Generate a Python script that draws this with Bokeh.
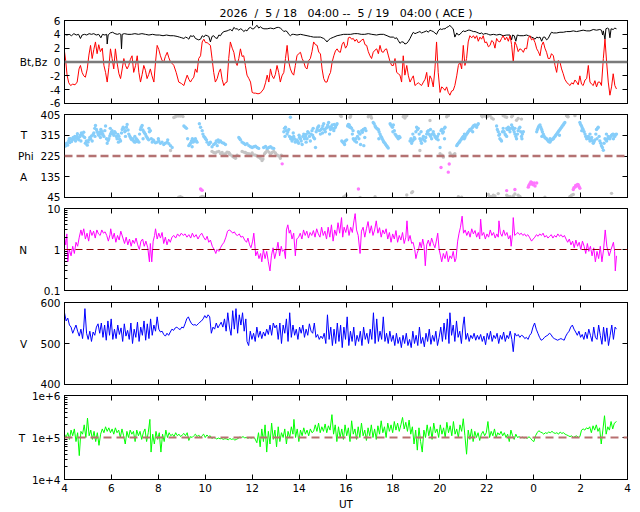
from bokeh.plotting import figure
from bokeh.layouts import column
from bokeh.models import Range1d, FixedTicker, LinearAxis, LogAxis, Span
from bokeh.embed import file_html
from bokeh.resources import INLINE

FONT = "DejaVu Sans"
FSIZE = "10.5px"
NB = "\u00a0"

TITLE = ("2026" + NB + " / " + NB + "5 / 18" + NB * 2 + " 04:00 -- " + NB + "5 / 19"
         + NB * 2 + " 04:00 ( ACE )")

X_TICKS = [4, 6, 8, 10, 12, 14, 16, 18, 20, 22, 24, 26, 28]
X_TICK_LABELS = ["4", "6", "8", "10", "12", "14", "16", "18", "20", "22", "0", "2", "4"]

B_TICKS = [-6, -4, -2, 0, 2, 4, 6]
B_TICK_LABELS = ["-6", "-4", "-2", "Bt,Bz" + NB * 2 + "0", "2", "4", "6"]
PHI_TICKS = [45, 135, 225, 315, 405]
PHI_TICK_LABELS = ["45", "A" + NB * 4 + "135", "Phi" + NB * 2 + "225", "T" + NB * 4 + "315", "405"]
N_TICKS = [0.1, 1.0, 10.0]
N_TICK_LABELS = ["0.1", "N" + NB * 8 + "1", "10"]
N_MINOR = [0.2, 0.3, 0.4, 0.5, 0.6, 0.7, 0.8, 0.9, 2.0, 3.0, 4.0, 5.0, 6.0, 7.0, 8.0, 9.0]
V_TICKS = [400, 500, 600]
V_TICK_LABELS = ["400", "V" + NB * 4 + "500", "600"]
T_TICKS = [1e4, 1e5, 1e6]
T_TICK_LABELS = ["1e+4", "T" + NB * 2 + "1e+5", "1e+6"]
T_MINOR = [2e4, 3e4, 4e4, 5e4, 6e4, 7e4, 8e4, 9e4, 2e5, 3e5, 4e5, 5e5, 6e5, 7e5, 8e5, 9e5]

# ---------------- data (hour, value) ----------------
bt_points = [
(4.00,4.0),(4.10,3.9),(4.20,4.0),(4.30,3.8),(4.40,4.1),(4.50,3.9),(4.60,4.0),(4.68,3.4),(4.75,3.9),(4.85,4.0),
(4.95,3.9),(5.05,4.1),(5.15,4.0),(5.25,4.1),(5.35,3.9),(5.46,4.0),(5.55,3.5),(5.62,4.0),(5.72,3.9),(5.80,4.0),
(5.82,2.6),(5.86,3.9),(5.95,4.2),(6.05,4.3),(6.15,4.1),(6.25,4.0),(6.35,4.1),(6.40,4.0),(6.43,1.9),(6.46,4.0),
(6.55,4.1),(6.70,4.0),(6.85,4.0),(7.00,4.1),(7.15,4.0),(7.30,4.1),(7.45,4.0),(7.60,3.9),(7.75,4.0),(7.90,3.9),
(8.05,3.9),(8.20,3.8),(8.35,3.9),(8.50,3.8),(8.65,3.8),(8.80,3.7),(8.90,3.6),(9.00,3.5),(9.09,3.4),(9.16,3.6),
(9.23,3.5),(9.30,3.3),(9.37,3.8),(9.44,3.7),(9.51,3.8),(9.58,3.4),(9.65,3.3),(9.72,3.2),(9.80,3.3),(9.87,3.8),
(9.94,3.6),(10.01,3.9),(10.08,3.8),(10.15,3.7),(10.22,2.9),(10.29,3.7),(10.36,3.8),(10.43,3.5),(10.51,3.4),(10.58,3.9),
(10.65,3.8),(10.72,4.2),(10.80,4.4),(10.93,4.5),(11.00,4.6),(11.07,4.7),(11.15,4.5),(11.22,5.0),(11.29,4.8),(11.36,4.8),
(11.43,4.6),(11.50,4.8),(11.57,4.7),(11.64,4.4),(11.71,4.6),(11.78,4.5),(11.86,4.9),(11.93,5.0),(12.00,4.8),(12.07,4.8),
(12.14,5.1),(12.21,5.3),(12.28,4.9),(12.35,5.1),(12.42,4.9),(12.50,4.8),(12.64,4.8),(12.78,4.9),(12.92,4.8),(13.06,5.0),
(13.13,5.0),(13.20,4.9),(13.27,4.7),(13.35,4.4),(13.42,4.5),(13.49,4.4),(13.56,4.0),(13.63,3.8),(13.70,4.0),(13.77,4.0),
(13.91,3.9),(14.06,4.0),(14.20,3.9),(14.34,3.8),(14.48,3.7),(14.62,3.6),(14.77,3.6),(14.91,3.6),(15.05,3.4),(15.12,3.2),
(15.19,2.9),(15.26,3.2),(15.34,3.4),(15.48,3.6),(15.62,3.8),(15.76,3.9),(15.90,4.0),(16.05,4.0),(16.20,4.0),(16.35,4.1),
(16.50,4.1),(16.65,4.0),(16.80,4.0),(16.95,4.1),(17.10,4.0),(17.30,3.9),(17.45,4.0),(17.60,4.0),(17.75,3.8),(17.88,3.6),
(18.02,3.6),(18.09,3.4),(18.16,3.5),(18.23,3.1),(18.30,2.7),(18.37,2.9),(18.44,2.9),(18.51,2.6),(18.59,2.7),(18.66,3.0),
(18.73,3.4),(18.80,3.9),(18.87,4.3),(18.94,4.1),(19.01,4.2),(19.08,4.3),(19.15,4.4),(19.22,4.2),(19.30,4.3),(19.37,4.4),
(19.44,4.5),(19.51,4.3),(19.58,4.6),(19.65,4.5),(19.72,4.4),(19.79,4.2),(19.86,4.0),(19.93,4.5),(20.01,4.8),(20.08,4.7),
(20.15,4.8),(20.22,4.8),(20.29,5.0),(20.36,5.1),(20.43,5.3),(20.50,5.0),(20.57,4.8),(20.64,3.6),(20.72,4.2),(20.79,3.9),
(20.86,4.0),(20.93,4.3),(21.00,4.5),(21.07,4.4),(21.14,4.5),(21.21,4.6),(21.28,4.6),(21.36,4.5),(21.43,4.4),(21.50,4.4),
(21.57,4.3),(21.64,4.2),(21.71,4.1),(21.78,4.2),(21.85,4.0),(21.92,4.1),(21.99,4.1),(22.07,4.0),(22.14,3.9),(22.28,4.0),
(22.42,3.9),(22.56,4.0),(22.70,3.8),(22.85,3.9),(22.99,3.9),(23.06,3.2),(23.10,3.9),(23.17,3.8),(23.24,3.0),(23.30,3.9),
(23.41,3.8),(23.56,3.8),(23.70,3.9),(23.77,3.8),(23.84,3.7),(23.91,3.6),(23.98,3.5),(24.06,3.3),(24.13,3.6),(24.20,3.5),
(24.27,3.6),(24.34,3.0),(24.41,3.6),(24.48,3.6),(24.55,3.2),(24.62,3.4),(24.69,3.9),(24.76,4.3),(24.84,4.2),(24.98,4.2),
(25.12,4.3),(25.26,4.3),(25.40,4.4),(25.55,4.4),(25.69,4.5),(25.83,4.4),(25.97,4.5),(26.11,4.6),(26.26,4.5),(26.40,4.5),
(26.54,4.7),(26.68,4.6),(26.82,4.7),(26.89,4.6),(26.94,3.9),(26.97,4.5),(27.04,3.3),(27.08,4.8),(27.15,4.9),(27.20,4.8),
(27.25,3.5),(27.30,4.8),(27.39,4.7),(27.46,4.9),(27.53,4.8)]

bz_points = [
(4.00,1.5),(4.05,0.2),(4.11,-1.9),(4.18,-3.0),(4.26,-3.4),(4.35,-3.2),(4.45,-3.3),(4.54,-2.9),(4.62,-1.0),(4.68,-0.5),
(4.75,-1.5),(4.82,-2.0),(4.89,-2.2),(4.97,-1.0),(5.04,1.0),(5.11,2.4),(5.18,0.5),(5.25,1.8),(5.32,2.9),(5.39,1.2),
(5.46,2.5),(5.53,1.5),(5.61,2.0),(5.68,-0.5),(5.75,-1.5),(5.82,-2.9),(5.89,-0.8),(5.96,1.9),(6.03,0.5),(6.10,-1.0),
(6.17,1.9),(6.25,-0.3),(6.32,-1.7),(6.39,-2.4),(6.46,-1.0),(6.53,0.5),(6.60,-0.5),(6.67,-1.0),(6.74,-0.5),(6.81,0.4),
(6.88,0.9),(6.95,-1.5),(7.03,-0.5),(7.10,0.9),(7.17,-1.5),(7.24,-2.9),(7.31,-1.8),(7.38,-0.5),(7.45,-1.2),(7.52,-2.4),
(7.59,-1.8),(7.66,-1.0),(7.73,-2.0),(7.81,-2.9),(7.88,0.0),(7.95,2.4),(8.02,1.8),(8.09,0.9),(8.16,0.2),(8.23,0.0),
(8.30,0.8),(8.38,1.4),(8.45,0.6),(8.52,0.0),(8.59,-0.2),(8.66,-0.5),(8.76,-1.5),(8.87,-2.9),(8.98,-3.1),(9.09,-3.4),
(9.16,-2.6),(9.23,-1.9),(9.30,-2.5),(9.37,-2.9),(9.44,-2.5),(9.51,-2.2),(9.58,-1.0),(9.65,-1.5),(9.72,0.5),(9.80,0.9),
(9.87,2.9),(9.94,3.3),(10.01,2.8),(10.08,2.8),(10.15,2.6),(10.22,2.4),(10.29,0.5),(10.36,-1.5),(10.43,-2.9),(10.51,-2.4),
(10.58,-1.5),(10.65,-1.0),(10.72,-2.5),(10.79,-3.4),(10.86,-3.0),(10.93,-2.9),(11.00,0.5),(11.07,2.9),(11.15,2.0),(11.22,1.4),
(11.29,0.0),(11.36,-0.5),(11.43,0.5),(11.50,1.9),(11.57,0.8),(11.64,0.9),(11.71,-0.5),(11.78,-1.9),(11.86,-2.4),(11.93,-2.9),
(12.00,-4.4),(12.07,-4.5),(12.14,-4.5),(12.25,-4.6),(12.35,-4.5),(12.42,-4.2),(12.49,-3.9),(12.57,-3.0),(12.64,-1.9),(12.71,-2.9),
(12.78,-1.0),(12.85,-2.0),(12.92,-2.4),(12.99,-1.8),(13.06,-0.5),(13.13,-1.5),(13.20,-2.9),(13.27,-2.0),(13.35,-1.5),(13.42,0.5),
(13.49,2.4),(13.56,0.0),(13.63,-1.0),(13.70,-1.6),(13.77,-1.9),(13.84,-0.5),(13.91,0.9),(13.98,1.2),(14.06,1.4),(14.13,0.5),
(14.20,0.0),(14.27,-0.8),(14.34,-1.0),(14.41,0.2),(14.48,0.5),(14.55,1.5),(14.62,2.9),(14.70,2.5),(14.77,2.4),(14.84,1.4),
(14.91,1.2),(14.98,-1.0),(15.05,-2.4),(15.12,-2.9),(15.19,-2.9),(15.27,-2.0),(15.34,-1.5),(15.41,0.0),(15.48,0.9),(15.55,1.6),
(15.62,1.9),(15.69,1.5),(15.76,1.4),(15.83,2.5),(15.90,2.9),(15.98,2.0),(16.05,2.4),(16.10,3.5),(16.17,3.6),(16.24,3.3),
(16.31,3.4),(16.38,3.0),(16.45,3.3),(16.52,2.8),(16.60,2.9),(16.67,3.2),(16.74,3.3),(16.81,2.5),(16.88,2.4),(16.95,1.5),
(17.02,0.9),(17.09,0.5),(17.16,1.4),(17.23,1.7),(17.31,1.9),(17.38,1.2),(17.45,2.4),(17.52,1.5),(17.59,1.4),(17.66,1.8),
(17.73,1.9),(17.80,1.0),(17.88,0.0),(17.95,-0.5),(18.02,-0.5),(18.09,0.5),(18.16,-1.5),(18.23,-1.7),(18.30,-1.9),(18.37,-2.9),
(18.44,0.9),(18.51,-1.9),(18.59,-0.5),(18.66,-2.0),(18.73,-2.9),(18.80,-2.4),(18.87,-2.0),(18.94,-3.4),(19.01,-3.2),(19.08,-3.0),
(19.15,-3.2),(19.22,-3.4),(19.30,-2.9),(19.37,-2.5),(19.44,-1.5),(19.51,-3.6),(19.58,-2.0),(19.65,-2.5),(19.72,-3.6),(19.79,-1.0),
(19.86,2.9),(19.93,-1.5),(20.01,-4.4),(20.08,-3.6),(20.15,-3.8),(20.22,-4.1),(20.29,-3.6),(20.36,-4.4),(20.43,-4.8),(20.50,-4.2),
(20.57,-4.1),(20.64,-3.4),(20.72,-2.0),(20.79,-0.5),(20.86,0.0),(20.93,-1.0),(21.00,2.4),(21.07,-0.5),(21.14,0.5),(21.21,2.9),
(21.28,3.8),(21.36,3.5),(21.43,3.8),(21.50,3.4),(21.57,3.8),(21.64,3.0),(21.71,3.6),(21.78,3.3),(21.85,3.8),(21.92,2.8),
(21.99,2.9),(22.07,2.2),(22.14,2.4),(22.21,3.1),(22.28,2.9),(22.35,2.0),(22.42,3.4),(22.49,3.0),(22.56,2.9),(22.63,3.4),
(22.70,3.8),(22.78,3.2),(22.85,3.6),(22.92,3.0),(22.99,3.8),(23.06,2.5),(23.13,0.0),(23.20,2.9),(23.27,2.4),(23.34,1.5),
(23.41,1.9),(23.48,1.8),(23.56,1.4),(23.63,2.0),(23.70,1.9),(23.77,3.4),(23.84,3.8),(23.91,3.2),(23.98,3.4),(24.06,2.8),
(24.13,1.9),(24.20,1.5),(24.27,0.9),(24.34,2.4),(24.41,2.9),(24.48,2.0),(24.55,1.4),(24.62,0.5),(24.69,0.5),(24.76,1.2),
(24.84,0.9),(24.91,-0.5),(24.98,-1.5),(25.05,0.2),(25.12,0.0),(25.19,-1.0),(25.26,-1.7),(25.33,-2.5),(25.40,-2.9),(25.48,-3.2),
(25.55,-3.4),(25.62,-3.0),(25.69,-3.2),(25.76,-2.6),(25.83,-2.9),(25.90,-3.3),(25.97,-2.0),(26.04,-3.2),(26.11,-3.4),(26.19,-2.6),
(26.26,-2.4),(26.33,-0.5),(26.40,-2.9),(26.47,-3.2),(26.54,-3.4),(26.61,-2.7),(26.68,-3.6),(26.75,-2.9),(26.82,-2.9),(26.89,-3.4),
(26.97,0.5),(27.04,3.3),(27.11,0.0),(27.18,-2.9),(27.25,-4.8),(27.32,-3.6),(27.39,-1.7),(27.46,-3.4),(27.53,-3.9)]

phi_blue_points = [
(4.00,275),(4.04,268),(4.09,280),(4.13,272),(4.18,290),(4.22,283),(4.26,300),(4.30,288),(4.33,295),(4.37,305),
(4.40,298),(4.44,310),(4.47,290),(4.51,302),(4.54,310),(4.58,300),(4.61,295),(4.65,308),(4.68,315),(4.72,325),
(4.75,320),(4.79,312),(4.82,328),(4.86,305),(4.89,280),(4.93,290),(4.97,272),(5.00,285),(5.04,295),(5.08,305),
(5.11,300),(5.15,312),(5.18,290),(5.22,318),(5.25,325),(5.29,345),(5.32,357),(5.36,340),(5.39,330),(5.43,322),
(5.46,315),(5.50,328),(5.53,305),(5.57,320),(5.61,330),(5.64,318),(5.68,310),(5.72,335),(5.75,355),(5.79,300),
(5.82,280),(5.86,292),(5.89,300),(5.93,312),(5.96,320),(6.00,328),(6.03,335),(6.07,322),(6.10,315),(6.14,330),
(6.17,325),(6.21,310),(6.24,300),(6.28,318),(6.32,310),(6.35,298),(6.39,290),(6.43,325),(6.46,340),(6.50,350),
(6.53,345),(6.57,330),(6.60,335),(6.64,350),(6.67,362),(6.71,338),(6.74,320),(6.78,312),(6.81,305),(6.85,298),
(6.88,295),(6.92,300),(6.95,290),(6.99,285),(7.03,287),(7.06,300),(7.10,295),(7.13,290),(7.17,285),(7.20,320),
(7.24,340),(7.27,350),(7.31,357),(7.34,338),(7.38,330),(7.41,325),(7.45,320),(7.48,312),(7.52,305),(7.55,300),
(7.59,295),(7.62,330),(7.66,335),(7.70,300),(7.74,285),(7.78,295),(7.81,290),(7.88,282),(7.95,285),(8.02,290),
(8.09,280),(8.16,285),(8.23,275),(8.30,280),(8.38,285),(8.45,278),(8.52,270),(8.59,262),
(9.09,355),(9.15,350),(9.20,345),(9.25,300),(9.30,270),(9.34,275),(9.37,280),(9.41,290),(9.44,265),(9.48,285),
(9.51,290),(9.55,295),(9.58,300),(9.62,290),(9.65,285),(9.75,365),(9.80,350),(9.87,335),(9.90,320),(9.94,310),
(9.98,305),(10.01,300),(10.08,285),(10.15,275),(10.19,280),(10.22,285),(10.29,265),(10.36,275),(10.43,280),(10.47,290),
(10.51,270),(10.58,285),(10.62,288),(10.65,290),(10.72,283),(10.79,280),(10.86,275),(11.43,305),(11.47,300),(11.50,295),
(11.57,285),(11.64,280),(11.71,275),(11.78,278),(11.86,270),(11.93,265),(12.00,262),(12.07,265),(12.14,268),(12.21,262),
(12.28,258),(12.49,262),(12.57,266),(12.64,258),(12.71,262),(12.78,265),(12.85,260),(12.92,258),
(13.35,330),(13.38,345),(13.42,350),(13.45,335),(13.49,320),(13.52,330),(13.56,340),(13.59,310),(13.63,393),(13.64,300),
(13.67,305),(13.70,290),(13.73,298),(13.77,310),(13.80,300),(13.84,285),(13.87,292),(13.91,295),(13.94,288),(13.98,280),
(14.02,305),(14.06,300),(14.09,290),(14.13,275),(14.16,310),(14.20,320),(14.23,300),(14.27,310),(14.30,318),(14.34,300),
(14.37,330),(14.41,325),(14.44,310),(14.48,290),(14.51,320),(14.55,335),(14.58,315),(14.62,305),(14.66,300),(14.70,262),
(14.73,330),(14.77,340),(14.80,350),(14.84,355),(14.87,335),(14.91,320),(14.94,340),(14.98,345),(15.01,355),(15.05,365),
(15.08,340),(15.12,330),(15.15,345),(15.19,350),(15.22,360),(15.26,370),(15.30,350),(15.34,340),(15.37,352),(15.41,360),
(15.44,345),(15.48,335),(15.51,345),(15.55,350),(15.58,358),(15.62,365),
(15.82,290),(15.87,285),(15.91,280),(15.94,275),(15.97,290),(16.03,295),(16.07,355),(16.10,362),(16.14,360),(16.16,350),
(16.20,350),(16.24,345),(16.27,320),(16.31,300),(16.34,295),(16.38,290),(16.41,300),(16.45,285),(16.49,310),(16.53,330),
(16.56,325),(16.60,320),(16.62,275),(16.67,335),(16.70,328),(16.74,340),(16.76,270),(16.81,345),(16.85,335),
(17.16,370),(17.20,365),(17.24,355),(17.27,350),(17.31,345),(17.34,342),(17.38,340),(17.41,330),(17.45,320),(17.48,312),
(17.52,305),(17.55,298),(17.59,290),(17.62,285),(17.66,280),(17.69,275),(17.73,270),(17.76,265),(17.80,260),(17.88,365),
(17.91,360),(17.95,355),(17.98,350),(18.02,360),(18.06,335),(18.09,320),(18.13,315),(18.16,310),(18.20,305),(18.23,300),
(18.27,310),(18.30,305),
(18.73,290),(18.77,300),(18.80,280),(18.84,290),(18.87,295),(18.91,305),(18.94,300),(18.98,330),(19.01,350),(19.05,340),
(19.08,345),(19.12,320),(19.15,300),(19.19,290),(19.22,280),(19.26,300),(19.30,310),(19.33,295),(19.37,290),(19.40,305),
(19.44,320),(19.47,330),(19.51,335),(19.54,320),(19.58,315),(19.61,310),(19.65,300),(19.68,320),(19.72,330),(19.75,318),
(19.79,310),(19.82,305),(19.86,300),(19.90,310),(19.93,295),(20.01,262),(20.05,335),(20.08,340),(20.12,325),(20.15,330),
(20.19,345),(20.22,350),
(20.72,270),(20.75,275),(20.79,280),(20.83,285),(20.86,290),(20.90,295),(20.93,300),(20.97,305),(21.00,310),(21.04,300),
(21.07,305),(21.11,315),(21.14,320),(21.18,325),(21.21,330),(21.25,335),(21.28,340),(21.32,338),(21.36,345),(21.40,350),
(21.43,355),(21.47,358),(21.50,360),(21.54,355),(21.57,350),(21.61,360),(21.64,365),
(22.42,355),(22.45,340),(22.49,330),(22.52,315),(22.56,300),(22.60,295),(22.63,290),(22.67,330),(22.70,345),(22.74,330),
(22.78,320),(22.81,315),(22.85,310),(22.88,340),(22.92,350),(22.95,340),(22.99,330),(23.03,345),(23.06,360),(23.10,350),
(23.13,340),(23.17,330),(23.20,320),(23.24,310),(23.27,300),(23.31,320),(23.34,335),(23.38,345),(23.41,350),(23.45,330),
(23.48,310),(23.52,320),(23.56,330),
(24.13,330),(24.16,340),(24.20,350),(24.23,355),(24.27,360),(24.30,350),(24.34,340),(24.37,330),(24.41,320),(24.44,312),
(24.48,305),(24.51,302),(24.55,300),(24.58,295),(24.62,290),(24.65,288),(24.69,285),(24.72,290),(24.76,295),(24.80,298),
(24.84,300),(24.87,305),(24.91,310),(24.94,315),(24.98,320),(25.01,325),(25.05,330),(25.08,335),(25.12,340),(25.15,345),
(25.19,350),(25.22,355),(25.26,360),(25.29,365),(25.33,370),
(25.97,370),(26.00,362),(26.04,355),(26.07,348),(26.11,340),(26.15,330),(26.19,320),(26.22,310),(26.26,300),(26.30,305),
(26.33,310),(26.37,300),(26.40,290),(26.44,298),(26.47,305),(26.51,290),(26.54,280),(26.58,288),(26.61,295),(26.65,320),
(26.68,340),(26.72,345),(26.75,350),(26.79,310),(26.82,290),(26.86,280),(26.89,270),(26.93,262),(26.97,250),(27.00,280),
(27.04,300),(27.08,295),(27.11,290),(27.15,300),(27.18,310),(27.22,305),(27.25,300),(27.29,310),(27.32,315),(27.36,318),
(27.39,320),(27.43,315),(27.46,310),(27.50,318),(27.53,320),
(4.20,300),(4.55,322),(4.70,290),(5.30,310),(5.55,340),(5.95,345),(6.30,285),(6.60,310),(7.00,310),(7.35,300),
(7.60,345),(8.00,300),(8.40,295),(9.45,300),(10.05,295),(10.55,295),(13.40,310),(13.75,325),(14.00,315),(14.30,285),
(14.60,345),(15.00,325),(15.30,320),(15.50,362),(16.30,335),(16.55,300),(16.80,305),(17.40,300),(18.00,330),(18.85,320),
(19.20,330),(19.60,340),(19.95,320),(20.20,300),(21.05,320),(21.40,330),(22.55,320),(22.85,345),(23.20,345),(23.50,300),
(24.35,310),(24.70,300),(25.10,315),(26.05,335),(26.40,320),(26.70,300),(27.10,320),(27.40,300)]

phi_gray_points = [
(8.52,249),(8.66,392),(8.73,395),(8.77,400),(8.80,403),(8.84,398),(8.87,405),(8.91,400),(8.94,398),(8.98,402),
(9.01,400),(9.05,396),(10.29,245),(10.36,240),(10.43,238),(10.50,243),(10.58,245),(10.65,236),(10.72,240),(10.79,232),
(10.86,235),(10.93,242),(11.00,240),(11.04,235),(11.07,230),(11.15,225),(11.22,220),(11.26,218),(11.29,215),(11.36,228),
(11.57,245),(11.64,242),(11.71,240),(11.78,236),(11.86,235),(11.93,232),(12.00,238),(12.07,230),(12.14,228),(12.21,225),
(12.28,220),(12.35,215),(12.42,205),(12.46,212),(12.53,235),(12.57,240),(12.64,250),(12.71,242),(12.78,235),(12.85,240),
(12.92,245),(12.99,238),(13.06,230),(13.13,225),(13.20,215),(13.24,228),
(15.76,400),(15.80,396),(16.17,393),(16.20,398),(16.95,395),(16.99,400),(17.02,403),(17.06,398),(17.09,390),(18.44,395),
(18.47,400),(18.51,390),(18.55,397),(18.59,400),(19.15,249),(19.58,379),(20.01,235),(20.10,228),(20.15,220),(20.29,395),
(20.33,402),(20.36,400),(20.43,238),(20.50,230),(20.54,226),(20.57,225),(20.61,232),(20.64,235),
(21.78,400),(21.81,395),(21.85,405),(21.92,398),(21.99,395),(22.03,402),(22.07,398),(22.14,400),(22.21,390),(22.28,385),
(22.70,400),(22.78,395),(22.85,393),(23.06,395),(23.10,400),(23.27,380),(23.34,388),(23.48,385),(25.40,400),(25.44,396),
(25.47,395),(25.76,400),
(8.87,46),(8.94,48),(9.01,45),(9.80,46),(9.87,50),(9.94,47),(15.90,47),(16.00,55),(16.60,45),(17.24,48),
(18.59,56),(18.80,66),(18.84,70),(20.79,48),(20.93,46),(22.07,58),(22.14,50),(22.20,48),(22.28,55),(22.35,52),
(22.49,62),(22.85,55),(22.92,50),(23.00,48),(23.13,52),(23.20,60),(23.34,55),(23.41,50),(24.48,46),(25.55,50),
(25.62,55),(25.69,58),(27.32,63)]

phi_pink_points = [
(9.80,82),(9.84,78),(9.87,76),(13.28,191),(16.53,82),(20.05,175),(20.36,155),(20.40,190),(22.85,75),(23.20,80),
(23.77,90),(23.80,98),(23.84,105),(23.88,112),(23.91,110),(23.95,102),(23.98,100),(24.02,108),(24.06,95),(24.13,108),
(25.69,80),(25.72,88),(25.76,90),(25.79,97),(25.83,95),(25.87,102),(25.90,100),(25.94,92),(25.97,85)]

n_points = [
(4.00,2.0),(4.05,1.3),(4.10,2.4),(4.14,0.5),(4.20,1.0),(4.28,0.7),(4.35,1.2),(4.42,0.8),(4.49,1.5),(4.56,1.2),
(4.63,2.0),(4.70,3.0),(4.75,2.2),(4.82,3.2),(4.89,1.8),(4.96,2.5),(5.03,1.6),(5.10,3.0),(5.17,2.2),(5.24,2.8),
(5.31,1.9),(5.38,3.0),(5.45,2.4),(5.52,2.2),(5.59,3.0),(5.66,2.5),(5.73,2.7),(5.80,2.2),(5.87,1.6),(5.94,2.3),
(5.97,3.2),(6.05,1.8),(6.12,2.5),(6.19,1.5),(6.26,2.2),(6.33,1.7),(6.40,2.8),(6.49,1.9),(6.56,1.4),(6.63,2.0),
(6.70,1.3),(6.77,1.8),(6.84,1.2),(6.91,1.7),(6.98,1.4),(7.05,1.9),(7.12,1.3),(7.19,1.0),(7.26,1.6),(7.33,1.8),
(7.40,1.2),(7.47,1.6),(7.55,1.1),(7.62,0.5),(7.66,1.4),(7.72,0.5),(7.78,1.6),(7.84,2.2),(7.88,3.2),(7.95,1.8),
(8.02,2.5),(8.09,1.9),(8.16,2.6),(8.23,1.4),(8.30,2.0),(8.37,1.3),(8.44,1.8),(8.51,1.5),(8.58,2.0),(8.66,2.2),
(8.74,1.9),(8.82,2.4),(8.90,2.1),(8.98,2.5),(9.06,2.2),(9.14,2.4),(9.22,2.0),(9.30,2.3),(9.38,1.9),(9.45,2.5),
(9.53,2.0),(9.61,2.3),(9.69,1.8),(9.77,2.2),(9.85,2.5),(9.93,2.0),(10.01,1.7),(10.08,2.1),(10.15,1.5),(10.22,1.7),
(10.30,1.2),(10.38,1.0),(10.45,0.8),(10.50,1.0),(10.58,0.9),(10.65,1.1),(10.72,1.3),(10.80,1.5),(10.88,2.0),(10.95,2.8),
(11.02,3.0),(11.10,2.8),(11.17,2.5),(11.24,2.7),(11.31,2.3),(11.38,2.2),(11.45,2.4),(11.52,2.0),(11.60,2.1),(11.68,1.7),
(11.76,1.5),(11.82,1.9),(11.89,1.3),(11.95,1.1),(12.02,1.6),(12.07,2.5),(12.12,1.2),(12.15,0.7),(12.22,0.9),(12.29,0.6),
(12.36,0.8),(12.41,0.5),(12.48,1.0),(12.55,0.6),(12.62,0.9),(12.69,0.5),(12.76,0.3),(12.82,0.7),(12.89,1.1),(12.96,0.6),
(13.03,0.9),(13.10,1.5),(13.17,0.7),(13.24,1.2),(13.29,0.9),(13.36,1.0),(13.42,0.6),(13.46,3.0),(13.52,4.0),(13.58,2.5),
(13.63,3.0),(13.70,1.8),(13.77,2.5),(13.84,0.7),(13.90,1.8),(13.98,2.0),(14.05,2.5),(14.12,1.8),(14.19,3.0),(14.26,2.2),
(14.33,2.8),(14.40,1.9),(14.47,2.6),(14.54,2.2),(14.61,2.9),(14.68,2.0),(14.75,3.2),(14.82,2.4),(14.89,2.0),(14.96,3.5),
(15.03,2.2),(15.10,2.8),(15.17,1.8),(15.24,3.5),(15.31,2.0),(15.38,4.0),(15.45,1.6),(15.52,3.0),(15.59,2.2),(15.66,4.5),
(15.73,2.5),(15.81,6.0),(15.86,2.0),(15.92,3.5),(15.99,2.6),(16.06,4.0),(16.13,2.2),(16.20,3.5),(16.27,2.6),(16.34,5.0),
(16.39,7.5),(16.45,3.0),(16.52,2.2),(16.60,0.8),(16.66,2.8),(16.73,3.5),(16.80,2.0),(16.87,3.2),(16.94,4.8),(17.01,2.5),
(17.08,3.8),(17.15,2.2),(17.22,3.0),(17.29,5.0),(17.36,2.5),(17.43,3.4),(17.50,2.0),(17.57,3.0),(17.64,2.4),(17.71,3.2),
(17.78,1.8),(17.85,2.6),(17.92,1.5),(17.99,2.4),(18.06,1.8),(18.13,2.9),(18.20,1.5),(18.27,2.2),(18.34,1.7),(18.41,2.6),
(18.48,1.4),(18.55,2.0),(18.60,5.0),(18.66,1.6),(18.73,2.2),(18.80,1.4),(18.86,1.5),(18.93,1.0),(18.98,0.6),(19.03,0.8),
(19.09,1.0),(19.15,1.5),(19.21,1.1),(19.27,1.8),(19.33,1.2),(19.38,0.4),(19.44,1.3),(19.51,1.7),(19.58,1.2),(19.65,1.9),
(19.72,1.4),(19.79,1.1),(19.85,1.6),(19.91,2.5),(19.97,1.0),(20.03,0.7),(20.08,0.5),(20.15,0.8),(20.22,0.6),(20.29,0.9),
(20.36,0.5),(20.43,0.7),(20.50,0.6),(20.57,0.9),(20.64,0.5),(20.69,0.6),(20.76,1.6),(20.82,2.5),(20.88,3.5),(20.95,6.5),
(21.01,2.5),(21.08,3.0),(21.15,2.2),(21.22,2.8),(21.29,2.0),(21.36,3.2),(21.43,2.4),(21.50,2.9),(21.57,2.0),(21.64,2.6),
(21.70,1.8),(21.74,5.5),(21.80,2.2),(21.87,2.6),(21.94,1.8),(22.01,2.4),(22.08,2.0),(22.15,3.0),(22.22,2.2),(22.29,2.6),
(22.36,1.9),(22.43,2.4),(22.49,2.0),(22.52,5.0),(22.58,2.5),(22.65,2.1),(22.72,3.0),(22.79,2.2),(22.86,2.6),(22.93,1.8),
(23.00,2.2),(23.04,1.2),(23.10,2.4),(23.13,6.0),(23.19,2.2),(23.26,2.4),(23.33,2.6),(23.40,2.3),(23.47,2.5),(23.54,2.2),
(23.61,2.4),(23.68,2.1),(23.75,2.3),(23.82,2.0),(23.91,1.6),(23.98,1.8),(24.05,2.0),(24.12,2.3),(24.19,2.1),(24.26,2.4),
(24.33,2.2),(24.40,2.5),(24.47,2.0),(24.54,2.2),(24.61,1.9),(24.68,2.1),(24.75,2.3),(24.82,1.9),(24.89,2.2),(24.96,2.0),
(25.03,2.4),(25.10,2.1),(25.17,2.3),(25.24,2.0),(25.31,2.2),(25.38,1.8),(25.45,1.5),(25.52,1.8),(25.59,1.3),(25.66,1.6),
(25.73,1.1),(25.80,1.7),(25.87,1.2),(25.94,1.5),(26.01,1.0),(26.08,1.6),(26.15,1.2),(26.22,0.8),(26.29,1.4),(26.35,0.9),
(26.42,1.2),(26.49,0.7),(26.56,1.1),(26.63,0.5),(26.70,0.9),(26.77,0.6),(26.84,1.2),(26.91,0.5),(26.98,1.0),(27.05,3.0),
(27.12,1.2),(27.22,0.7),(27.30,1.0),(27.40,1.5),(27.45,0.9),(27.48,0.3),(27.53,0.7)]

v_points = [
(4.00,575),(4.07,555),(4.14,562),(4.21,545),(4.28,540),(4.35,525),(4.42,535),(4.49,545),(4.56,530),(4.63,518),
(4.70,535),(4.77,512),(4.82,540),(4.87,585),(4.94,525),(5.01,510),(5.08,530),(5.15,505),(5.22,528),(5.29,520),
(5.36,540),(5.43,548),(5.50,525),(5.57,550),(5.64,515),(5.71,545),(5.78,508),(5.85,555),(5.92,520),(5.99,560),
(6.06,510),(6.13,535),(6.20,512),(6.27,545),(6.34,522),(6.41,538),(6.48,505),(6.55,548),(6.62,518),(6.69,532),
(6.76,510),(6.83,550),(6.90,500),(6.97,535),(7.04,515),(7.11,552),(7.18,505),(7.25,540),(7.32,520),(7.39,555),
(7.46,508),(7.53,548),(7.60,512),(7.67,560),(7.74,520),(7.81,545),(7.88,530),(7.95,565),(8.02,535),(8.09,528),
(8.16,530),(8.23,522),(8.30,518),(8.37,525),(8.44,520),(8.51,528),(8.58,535),(8.65,532),(8.72,538),(8.79,540),
(8.86,536),(8.93,534),(9.00,540),(9.07,538),(9.14,548),(9.21,560),(9.28,565),(9.35,555),(9.42,548),(9.49,545),
(9.56,546),(9.63,544),(9.70,548),(9.77,552),(9.84,555),(9.91,560),(9.98,568),(10.05,562),(10.12,570),(10.19,565),
(10.26,525),(10.33,540),(10.40,535),(10.47,550),(10.54,538),(10.61,545),(10.68,552),(10.75,540),(10.82,560),(10.89,530),
(10.96,575),(11.03,540),(11.10,520),(11.17,580),(11.24,535),(11.31,585),(11.38,525),(11.45,570),(11.52,545),(11.59,575),
(11.66,530),(11.73,560),(11.78,505),(11.85,495),(11.92,530),(11.99,510),(12.06,525),(12.13,505),(12.20,540),(12.27,515),
(12.34,530),(12.41,512),(12.48,528),(12.55,518),(12.62,535),(12.69,522),(12.76,545),(12.83,520),(12.90,550),(12.97,538),
(13.04,545),(13.11,510),(13.18,550),(13.25,500),(13.32,545),(13.39,525),(13.46,560),(13.53,505),(13.60,575),(13.67,515),
(13.74,545),(13.81,520),(13.88,535),(13.95,510),(14.02,540),(14.09,525),(14.16,545),(14.23,515),(14.30,535),(14.37,520),
(14.44,548),(14.51,530),(14.58,525),(14.65,550),(14.72,515),(14.79,522),(14.86,510),(14.93,518),(15.00,512),(15.07,525),
(15.14,500),(15.21,570),(15.28,510),(15.35,540),(15.42,495),(15.49,535),(15.56,500),(15.63,550),(15.70,505),(15.77,545),
(15.84,490),(15.91,540),(15.98,510),(16.05,565),(16.12,495),(16.19,530),(16.26,505),(16.33,540),(16.40,495),(16.47,520),
(16.54,505),(16.61,530),(16.68,495),(16.75,540),(16.82,510),(16.89,525),(16.96,500),(17.03,535),(17.10,510),(17.17,575),
(17.24,500),(17.31,560),(17.38,505),(17.45,530),(17.52,510),(17.59,565),(17.66,505),(17.73,525),(17.80,500),(17.87,530),
(17.94,505),(18.01,520),(18.08,495),(18.15,525),(18.22,500),(18.29,515),(18.36,490),(18.43,520),(18.50,500),(18.57,525),
(18.64,495),(18.71,510),(18.78,490),(18.85,530),(18.92,500),(18.99,520),(19.06,495),(19.13,540),(19.20,500),(19.27,515),
(19.34,492),(19.41,525),(19.48,505),(19.55,535),(19.62,498),(19.69,520),(19.76,505),(19.83,530),(19.90,495),(19.97,515),
(20.04,540),(20.11,505),(20.18,550),(20.25,510),(20.32,560),(20.39,500),(20.43,575),(20.50,520),(20.57,545),(20.64,505),
(20.71,555),(20.78,515),(20.85,530),(20.92,500),(20.99,545),(21.04,565),(21.11,510),(21.18,525),(21.25,505),(21.32,520),
(21.39,512),(21.46,525),(21.53,508),(21.60,520),(21.67,510),(21.74,522),(21.81,505),(21.88,518),(21.95,497),(22.02,525),
(22.09,510),(22.16,530),(22.23,505),(22.30,520),(22.37,512),(22.44,525),(22.51,500),(22.58,520),(22.65,510),(22.72,528),
(22.79,505),(22.86,520),(22.93,512),(23.00,530),(23.07,510),(23.13,480),(23.20,525),(23.27,518),(23.34,522),(23.41,515),
(23.48,520),(23.55,518),(23.62,512),(23.69,515),(23.76,510),(23.83,520),(23.90,525),(23.97,540),(24.04,550),(24.11,535),
(24.18,525),(24.25,515),(24.32,508),(24.39,510),(24.46,515),(24.53,518),(24.60,520),(24.67,525),(24.74,522),(24.81,515),
(24.88,512),(24.95,510),(25.02,508),(25.09,510),(25.16,512),(25.23,510),(25.30,508),(25.37,518),(25.44,525),(25.51,530),
(25.58,540),(25.65,545),(25.72,535),(25.79,528),(25.86,520),(25.93,530),(26.00,515),(26.07,522),(26.14,510),(26.21,528),
(26.28,512),(26.35,535),(26.42,520),(26.49,505),(26.56,540),(26.63,515),(26.70,510),(26.77,545),(26.84,520),(26.91,498),
(26.98,540),(27.05,505),(27.12,538),(27.19,495),(27.26,520),(27.33,545),(27.40,510),(27.47,540),(27.53,535)]

t_points = [
(4.00,1.2e5),(4.07,1.0e5),(4.14,1.3e5),(4.21,0.9e5),(4.28,1.5e5),(4.35,1.1e5),(4.42,1.6e5),(4.49,0.8e5),(4.56,1.3e5),(4.63,0.37e5),
(4.70,1.4e5),(4.77,1.2e5),(4.84,2.0e5),(4.91,1.0e5),(4.98,2.9e5),(5.05,1.1e5),(5.12,1.5e5),(5.19,0.9e5),(5.26,1.4e5),(5.33,0.8e5),
(5.40,1.3e5),(5.47,0.65e5),(5.54,1.2e5),(5.61,1.6e5),(5.68,1.3e5),(5.75,1.8e5),(5.82,1.4e5),(5.89,1.7e5),(5.96,1.3e5),(6.03,1.6e5),
(6.10,1.2e5),(6.17,1.7e5),(6.24,1.3e5),(6.31,1.5e5),(6.38,1.0e5),(6.45,1.6e5),(6.52,1.1e5),(6.59,0.7e5),(6.66,1.4e5),(6.73,1.0e5),
(6.80,1.5e5),(6.87,1.2e5),(6.94,1.4e5),(7.01,0.8e5),(7.08,1.5e5),(7.15,1.1e5),(7.22,1.4e5),(7.29,0.9e5),(7.36,1.3e5),(7.43,1.6e5),
(7.50,0.8e5),(7.57,1.3e5),(7.64,2.7e5),(7.69,0.45e5),(7.76,1.2e5),(7.83,0.7e5),(7.90,1.4e5),(7.97,0.9e5),(8.04,1.3e5),(8.11,0.45e5),
(8.18,1.2e5),(8.25,0.8e5),(8.32,1.5e5),(8.39,1.0e5),(8.46,1.3e5),(8.53,1.1e5),(8.60,1.2e5),(8.67,1.05e5),(8.74,1.3e5),(8.81,1.1e5),
(8.88,1.2e5),(8.95,1.05e5),(9.02,1.15e5),(9.09,1.25e5),(9.16,1.1e5),(9.23,1.3e5),(9.30,0.85e5),(9.37,1.05e5),(9.44,1.0e5),(9.51,1.1e5),
(9.58,1.2e5),(9.65,1.05e5),(9.72,1.15e5),(9.79,1.0e5),(9.86,1.1e5),(9.93,1.2e5),(10.00,1.0e5),(10.07,1.15e5),(10.14,1.05e5),(10.21,1.1e5),
(10.28,0.95e5),(10.35,1.0e5),(10.42,0.98e5),(10.49,0.92e5),(10.56,0.97e5),(10.63,0.93e5),(10.70,0.95e5),(10.77,0.9e5),(10.84,0.94e5),(10.91,0.92e5),
(10.98,0.88e5),(11.05,0.95e5),(11.12,0.9e5),(11.19,0.93e5),(11.26,0.87e5),(11.33,0.9e5),(11.40,0.95e5),(11.47,1.02e5),(11.54,1.0e5),(11.61,1.05e5),
(11.68,0.98e5),(11.75,1.0e5),(11.82,0.96e5),(11.89,1.0e5),(11.96,0.97e5),(12.03,1.0e5),(12.10,0.98e5),(12.20,0.75e5),(12.27,1.3e5),(12.34,0.6e5),
(12.41,1.6e5),(12.48,0.8e5),(12.55,2.0e5),(12.62,0.45e5),(12.69,1.4e5),(12.76,0.7e5),(12.83,2.2e5),(12.90,0.9e5),(12.97,1.5e5),(13.04,0.6e5),
(13.11,1.8e5),(13.18,0.8e5),(13.25,1.3e5),(13.32,1.0e5),(13.39,1.6e5),(13.46,0.7e5),(13.53,1.4e5),(13.60,1.0e5),(13.67,1.8e5),(13.74,1.2e5),
(13.78,2.7e5),(13.85,1.0e5),(13.92,1.6e5),(13.99,0.8e5),(14.06,1.5e5),(14.13,1.1e5),(14.20,1.7e5),(14.27,1.2e5),(14.34,1.5e5),(14.41,1.1e5),
(14.48,1.6e5),(14.55,1.3e5),(14.62,1.4e5),(14.69,2.0e5),(14.76,1.4e5),(14.83,2.2e5),(14.90,1.3e5),(14.97,1.8e5),(15.04,1.4e5),(15.11,2.1e5),
(15.18,1.3e5),(15.25,1.9e5),(15.32,1.5e5),(15.40,3.5e5),(15.47,1.2e5),(15.54,2.0e5),(15.61,0.8e5),(15.68,1.8e5),(15.75,1.0e5),(15.82,1.6e5),
(15.89,0.9e5),(15.96,2.0e5),(16.03,1.1e5),(16.10,1.7e5),(16.17,0.8e5),(16.24,2.5e5),(16.31,1.2e5),(16.38,1.6e5),(16.45,0.9e5),(16.52,1.8e5),
(16.59,1.0e5),(16.66,2.2e5),(16.73,1.1e5),(16.80,1.5e5),(16.87,0.85e5),(16.94,1.7e5),(17.01,1.1e5),(17.08,2.0e5),(17.15,1.0e5),(17.22,1.6e5),
(17.29,0.9e5),(17.36,1.9e5),(17.43,1.2e5),(17.50,2.5e5),(17.57,1.3e5),(17.64,1.8e5),(17.71,1.0e5),(17.78,2.2e5),(17.85,1.4e5),(17.92,2.0e5),
(17.99,1.3e5),(18.06,2.4e5),(18.13,1.5e5),(18.20,2.2e5),(18.27,1.4e5),(18.34,2.0e5),(18.41,3.0e5),(18.48,1.6e5),(18.55,2.3e5),(18.62,1.4e5),
(18.69,2.6e5),(18.76,1.2e5),(18.83,1.8e5),(18.90,0.7e5),(18.97,1.5e5),(19.04,0.5e5),(19.11,1.7e5),(19.18,0.8e5),(19.25,0.45e5),(19.32,1.5e5),
(19.39,1.0e5),(19.46,2.0e5),(19.53,1.1e5),(19.60,1.8e5),(19.67,0.9e5),(19.74,2.2e5),(19.81,1.3e5),(19.88,1.6e5),(19.95,1.0e5),(20.02,2.0e5),
(20.09,1.2e5),(20.16,1.7e5),(20.23,1.0e5),(20.30,2.3e5),(20.37,1.3e5),(20.44,1.9e5),(20.51,1.1e5),(20.58,2.4e5),(20.65,1.2e5),(20.72,1.6e5),
(20.79,1.0e5),(20.86,2.0e5),(20.93,1.4e5),(21.00,2.8e5),(21.07,1.1e5),(21.14,0.4e5),(21.21,1.5e5),(21.28,0.9e5),(21.35,1.6e5),(21.42,0.8e5),
(21.49,1.4e5),(21.56,1.0e5),(21.63,1.3e5),(21.70,0.85e5),(21.77,1.2e5),(21.84,1.4e5),(21.91,1.1e5),(21.98,1.3e5),(22.05,2.4e5),(22.12,1.0e5),
(22.19,1.4e5),(22.26,1.1e5),(22.33,1.6e5),(22.40,1.0e5),(22.47,1.3e5),(22.54,1.15e5),(22.61,1.4e5),(22.68,1.1e5),(22.75,1.3e5),(22.82,1.0e5),
(22.89,1.2e5),(22.96,0.8e5),(23.03,1.5e5),(23.10,1.1e5),(23.17,0.9e5),(23.24,1.2e5),(23.31,1.0e5),(23.38,1.05e5),(23.45,0.98e5),(23.52,1.02e5),
(23.59,0.97e5),(23.66,1.0e5),(23.73,0.95e5),(23.80,1.05e5),(23.87,0.95e5),(23.94,0.85e5),(24.01,0.8e5),(24.08,1.1e5),(24.15,1.3e5),(24.22,1.45e5),
(24.29,1.35e5),(24.36,1.3e5),(24.43,1.2e5),(24.50,1.3e5),(24.57,1.25e5),(24.64,1.35e5),(24.71,1.3e5),(24.78,1.4e5),(24.85,1.3e5),(24.92,1.25e5),
(24.99,1.3e5),(25.06,1.2e5),(25.13,1.35e5),(25.20,1.25e5),(25.27,1.3e5),(25.34,1.2e5),(25.41,1.15e5),(25.48,1.1e5),(25.55,1.05e5),(25.62,1.1e5),
(25.69,1.0e5),(25.76,1.05e5),(25.83,1.1e5),(25.90,1.0e5),(25.97,1.05e5),(26.04,1.5e5),(26.11,1.6e5),(26.18,1.5e5),(26.25,1.7e5),(26.32,1.6e5),
(26.39,1.8e5),(26.46,1.3e5),(26.53,1.9e5),(26.60,1.5e5),(26.67,2.0e5),(26.74,1.4e5),(26.81,1.7e5),(26.88,0.7e5),(26.95,1.5e5),(27.02,3.3e5),
(27.09,1.2e5),(27.16,1.8e5),(27.23,1.5e5),(27.30,2.4e5),(27.37,1.6e5),(27.44,2.2e5),(27.53,2.4e5)]


def split(points):
    return [p[0] for p in points], [p[1] for p in points]


x_range = Range1d(4, 28)


def tick_style(ax, tks, mnr=None):
    ax.ticker = FixedTicker(ticks=tks, minor_ticks=mnr or [])
    ax.major_tick_in = 5
    ax.major_tick_out = 0
    ax.major_tick_line_color = "black"
    ax.axis_line_color = "black"
    if mnr:
        ax.minor_tick_in = 3
        ax.minor_tick_out = 0
        ax.minor_tick_line_color = "black"
    else:
        ax.minor_tick_line_color = None


def hide_labels(ax, tks, horizontal_axis):
    # ticks only: empty labels that are never painted and take no room
    ax.major_label_overrides = {t: "" for t in tks}
    ax.major_label_text_color = None
    ax.major_label_standoff = 0
    if horizontal_axis:
        ax.major_label_orientation = "vertical"


def make_panel(height, top, bottom, y_range, log, ticks, labels, minor=None, x_labels=False):
    p = figure(width=640, height=height, x_range=x_range, y_range=y_range,
               y_axis_type="log" if log else "linear",
               output_backend="svg", toolbar_location=None,
               min_border_left=64, min_border_right=13,
               min_border_top=top, min_border_bottom=bottom)
    p.xgrid.visible = False
    p.ygrid.visible = False
    p.outline_line_color = "black"
    p.outline_line_width = 1
    p.background_fill_color = "white"
    p.border_fill_color = "white"

    xa = p.xaxis[0]
    tick_style(xa, X_TICKS)
    if x_labels:
        xa.major_label_overrides = dict(zip(X_TICKS, X_TICK_LABELS))
        xa.major_label_text_font = FONT
        xa.major_label_text_font_size = FSIZE
        xa.major_label_text_color = "black"
        xa.major_label_standoff = 4
        xa.axis_label = "UT"
        xa.axis_label_text_font = FONT
        xa.axis_label_text_font_size = FSIZE
        xa.axis_label_text_font_style = "normal"
        xa.axis_label_text_color = "black"
        xa.axis_label_standoff = 3
    else:
        hide_labels(xa, X_TICKS, True)

    ta = LinearAxis()
    tick_style(ta, X_TICKS)
    hide_labels(ta, X_TICKS, True)
    p.add_layout(ta, "above")

    ya = p.yaxis[0]
    tick_style(ya, ticks, minor)
    ya.major_label_overrides = dict(zip(ticks, labels))
    ya.major_label_text_font = FONT
    ya.major_label_text_font_size = FSIZE
    ya.major_label_text_color = "black"
    ya.major_label_standoff = 4

    ra = LogAxis() if log else LinearAxis()
    tick_style(ra, ticks)
    hide_labels(ra, ticks, False)
    p.add_layout(ra, "right")
    return p


# ---- panel 1: Bt, Bz ----
p1 = make_panel(108, 20, 5, Range1d(-6, 6), False, B_TICKS, B_TICK_LABELS)
p1.title.text = TITLE
p1.title.align = "center"
p1.title.text_font = FONT
p1.title.text_font_size = "11px"
p1.title.text_font_style = "normal"
p1.title.text_color = "black"
p1.title.standoff = 2
p1.title.offset = 0
bt_h, bt_v = split(bt_points)
bz_h, bz_v = split(bz_points)
p1.line(bt_h, bt_v, line_color="black", line_width=1)
p1.line(bz_h, bz_v, line_color="#ff0000", line_width=1)
p1.add_layout(Span(location=0, dimension="width", line_color="#7a7a7a", line_width=2.5))

# ---- panel 2: Phi ----
p2 = make_panel(94, 6, 5, Range1d(45, 405), False, PHI_TICKS, PHI_TICK_LABELS)
gh, gv = split(phi_gray_points)
bh, bv = split(phi_blue_points)
kh, kv = split(phi_pink_points)
p2.scatter(gh, gv, size=3.4, marker="circle", fill_color="#c4c4c4", line_color=None)
p2.scatter(bh, bv, size=3.4, marker="circle", fill_color="#87cefa", line_color=None)
p2.scatter(kh, kv, size=3.4, marker="circle", fill_color="#ff77ff", line_color=None)
p2.add_layout(Span(location=225, dimension="width", line_color="#b47272", line_width=2.5,
                   line_dash="8 4"))

# ---- panel 3: N ----
p3 = make_panel(94, 6, 6, Range1d(0.1, 10), True, N_TICKS, N_TICK_LABELS, N_MINOR)
nh, nv = split(n_points)
p3.line(nh, nv, line_color="#ff00ff", line_width=1)
p3.add_layout(Span(location=1, dimension="width", line_color="#8b0000", line_width=1.2,
                   line_dash="7 4"))

# ---- panel 4: V ----
p4 = make_panel(93, 6, 5, Range1d(400, 600), False, V_TICKS, V_TICK_LABELS)
vh, vv = split(v_points)
p4.line(vh, vv, line_color="#0000ff", line_width=1)

# ---- panel 5: T ----
p5 = make_panel(123, 6, 33, Range1d(1e4, 1e6), True, T_TICKS, T_TICK_LABELS, T_MINOR, x_labels=True)
th, tv = split(t_points)
p5.line(th, tv, line_color="#00ff00", line_width=1)
p5.add_layout(Span(location=1e5, dimension="width", line_color="#b87070", line_width=2.2,
                   line_dash="8 5"))

layout = column(p1, p2, p3, p4, p5)

open("out.html", "w").write(file_html(layout, INLINE))
